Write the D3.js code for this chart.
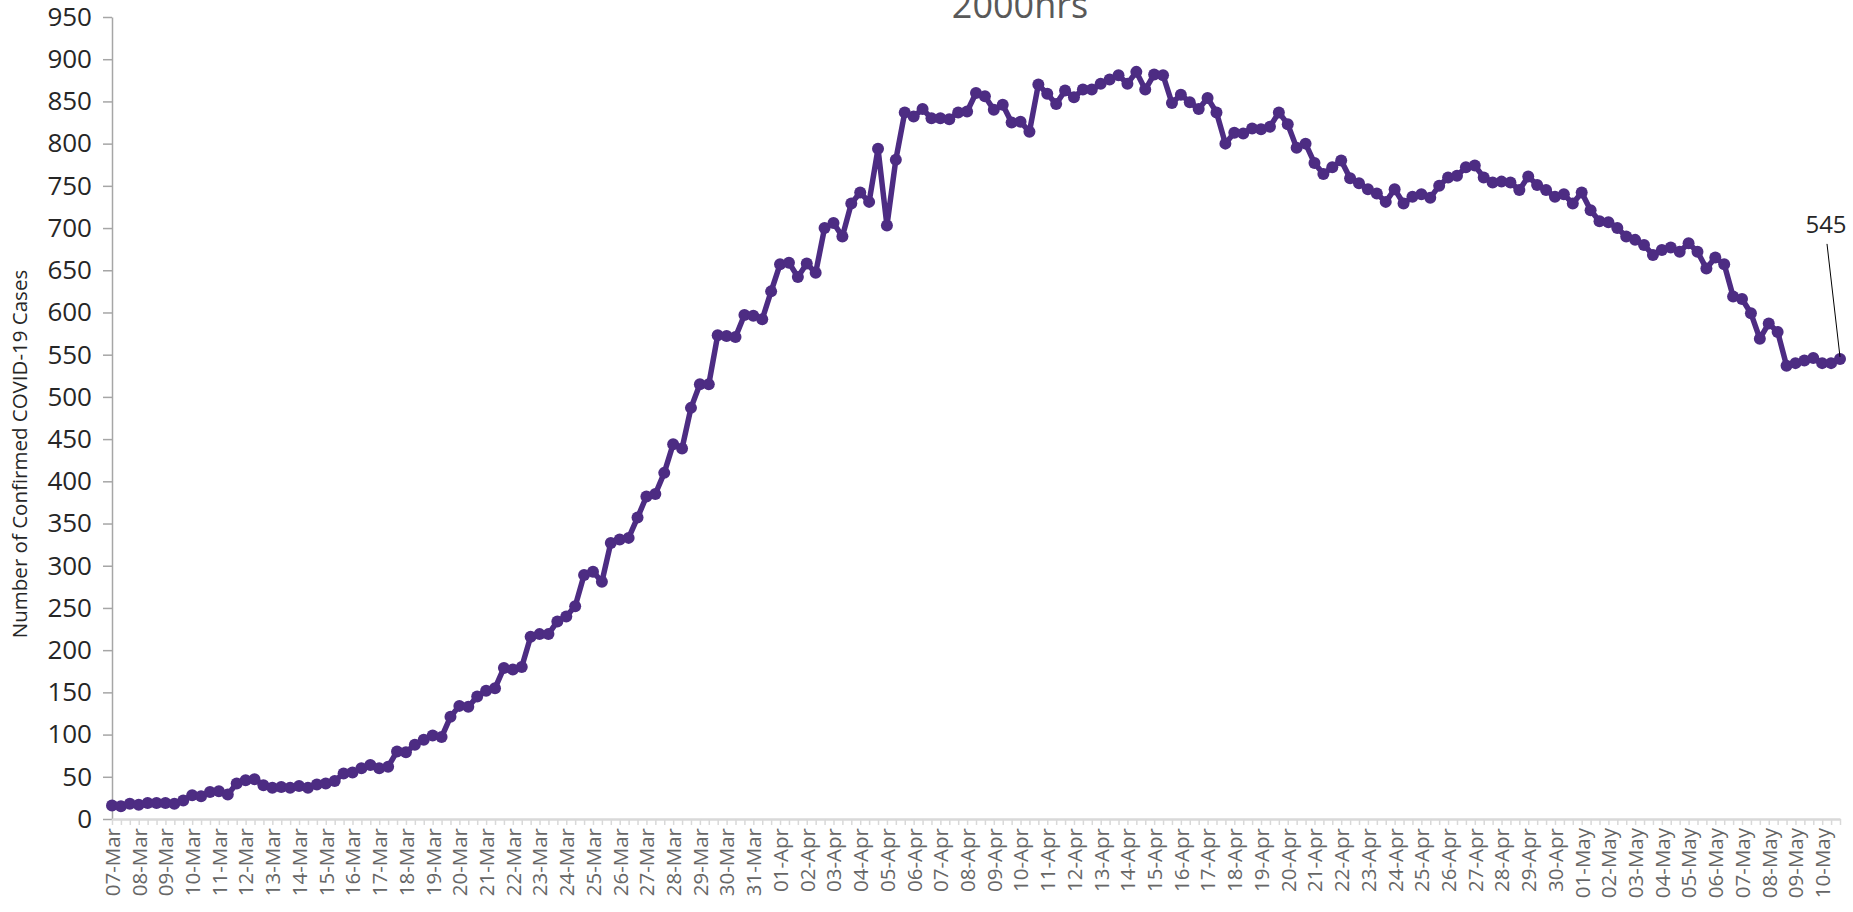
<!DOCTYPE html>
<html>
<head>
<meta charset="utf-8">
<script src="https://cdn.jsdelivr.net/npm/d3@7"></script>
<style>
  body { margin: 0; background: #ffffff; }
  svg { display: block; font-family: "Open Sans", "Noto Sans", sans-serif; }
</style>
</head>
<body>
<div id="chart"></div>
<script>

// Chart values, three readings per day

const dateLabels = [
  "07-Mar","08-Mar","09-Mar","10-Mar","11-Mar","12-Mar","13-Mar","14-Mar","15-Mar","16-Mar",
  "17-Mar","18-Mar","19-Mar","20-Mar","21-Mar","22-Mar","23-Mar","24-Mar","25-Mar","26-Mar",
  "27-Mar","28-Mar","29-Mar","30-Mar","31-Mar","01-Apr","02-Apr","03-Apr","04-Apr","05-Apr",
  "06-Apr","07-Apr","08-Apr","09-Apr","10-Apr","11-Apr","12-Apr","13-Apr","14-Apr","15-Apr",
  "16-Apr","17-Apr","18-Apr","19-Apr","20-Apr","21-Apr","22-Apr","23-Apr","24-Apr","25-Apr",
  "26-Apr","27-Apr","28-Apr","29-Apr","30-Apr","01-May","02-May","03-May","04-May","05-May",
  "06-May","07-May","08-May","09-May","10-May"
];

const cases = [
  16, 15, 18, 17, 19, 19, 19, 18, 22, 28, 27, 32, 33, 29, 42, 46, 47, 40, 37, 38,
  37, 39, 37, 41, 42, 45, 54, 55, 60, 64, 60, 62, 80, 79, 88, 94, 99, 97, 121, 134,
  133, 145, 152, 155, 179, 177, 180, 216, 219, 219, 234, 240, 252, 289, 293, 281, 327, 331, 333, 357,
  382, 385, 410, 444, 439, 487, 515, 515, 573, 572, 571, 597, 596, 592, 625, 657, 659, 642, 658, 647,
  700, 706, 690, 729, 742, 731, 794, 703, 781, 837, 832, 841, 830, 830, 829, 837, 838, 860, 856, 840,
  846, 825, 826, 814, 870, 859, 847, 863, 855, 864, 864, 871, 876, 881, 871, 885, 864, 882, 881, 848,
  858, 849, 841, 854, 837, 800, 813, 812, 818, 817, 820, 837, 823, 795, 800, 777, 764, 772, 780, 759,
  753, 746, 741, 731, 746, 729, 737, 740, 736, 750, 760, 762, 772, 774, 760, 754, 755, 754, 745, 761,
  751, 745, 737, 740, 729, 742, 721, 708, 707, 700, 690, 686, 680, 668, 674, 677, 672, 682, 672, 652,
  665, 657, 619, 616, 599, 569, 587, 577, 537, 540, 543, 546, 540, 540, 545
];

const yTicks = d3.range(0, 951, 50);
const chartTitle = "2000hrs";
const yTitle = "Number of Confirmed COVID-19 Cases";

// Dimensions
const width = 1853;
const height = 912;
const margin = {left: 112, right: 13, top: 17, bottom: 93};
const lineColor = "#4d2c83";

const svg = d3.select("#chart")
  .append("svg")
  .attr("width", width)
  .attr("height", height)
  .attr("viewBox", [0, 0, width, height]);

/*

  Scales

*/

let xScale = d3.scalePoint()
  .domain(d3.range(cases.length))
  .range([margin.left, width - margin.right]);

let yScale = d3.scaleLinear()
  .domain([0, 950])
  .range([height - margin.bottom, margin.top]);

/*

  Axes

*/

// y axis on the left with outside ticks
const yAxis = svg.append("g")
  .attr("transform", `translate(${margin.left}, 0)`)
  .call(d3.axisLeft(yScale).tickValues(yTicks).tickSize(9).tickPadding(11).tickSizeOuter(0));

yAxis.select(".domain").attr("stroke", "#a6a6a6").attr("stroke-width", 1.5);
yAxis.selectAll(".tick line").attr("stroke", "#a6a6a6").attr("stroke-width", 1.5);
yAxis.selectAll(".tick text")
  .attr("font-size", "26px")
  .attr("fill", "#262626")
  .attr("font-family", "Open Sans");

// x axis with a tick for every reading and a label every day
const xAxis = svg.append("g")
  .attr("transform", `translate(0, ${height - margin.bottom})`)
  .call(d3.axisBottom(xScale)
    .tickValues(d3.range(cases.length))
    .tickSize(6)
    .tickSizeOuter(0)
    .tickFormat(i => i % 3 === 0 ? dateLabels[i / 3] : ""));

xAxis.select(".domain").attr("stroke", "#d9d9d9").attr("stroke-width", 2.5);
xAxis.selectAll(".tick line").attr("stroke", "#d9d9d9").attr("stroke-width", 1.5);
xAxis.selectAll(".tick text")
  .attr("transform", "rotate(-90)")
  .attr("text-anchor", "end")
  .attr("x", -9)
  .attr("y", 0)
  .attr("dy", "0.36em")
  .attr("font-size", "20.5px")
  .attr("fill", "#666666")
  .attr("font-family", "Open Sans");

// Axis title
svg.append("text")
  .attr("transform", `translate(27, 454) rotate(-90)`)
  .attr("text-anchor", "middle")
  .attr("font-size", "20.5px")
  .attr("fill", "#262626")
  .text(yTitle);

// Chart title, cut off at the top edge
svg.append("text")
  .attr("x", 1020)
  .attr("y", 18)
  .attr("text-anchor", "middle")
  .attr("font-size", "36px")
  .attr("fill", "#595959")
  .text(chartTitle);

/*

  Line and markers

*/

const line = d3.line()
  .x((d, i) => xScale(i))
  .y(d => yScale(d));

svg.append("path")
  .datum(cases)
  .attr("fill", "none")
  .attr("stroke", lineColor)
  .attr("stroke-width", 5.5)
  .attr("stroke-linejoin", "round")
  .attr("d", line);

svg.selectAll(".dot")
  .data(cases)
  .enter()
  .append("circle")
    .attr("class", "dot")
    .attr("cx", (d, i) => xScale(i))
    .attr("cy", d => yScale(d))
    .attr("r", 6)
    .attr("fill", lineColor);

/*

  Data label for the last reading

*/

const lastIdx = cases.length - 1;
const labelX = xScale(lastIdx) - 14;
const labelY = yScale(cases[lastIdx]) - 126;

svg.append("line")
  .attr("x1", labelX + 1)
  .attr("y1", labelY + 11)
  .attr("x2", xScale(lastIdx))
  .attr("y2", yScale(cases[lastIdx]) - 2)
  .attr("stroke", "#000000")
  .attr("stroke-width", 1);

svg.append("text")
  .attr("x", labelX)
  .attr("y", labelY)
  .attr("text-anchor", "middle")
  .attr("font-size", "24px")
  .attr("fill", "#262626")
  .text(cases[lastIdx]);

</script>
</body>
</html>
